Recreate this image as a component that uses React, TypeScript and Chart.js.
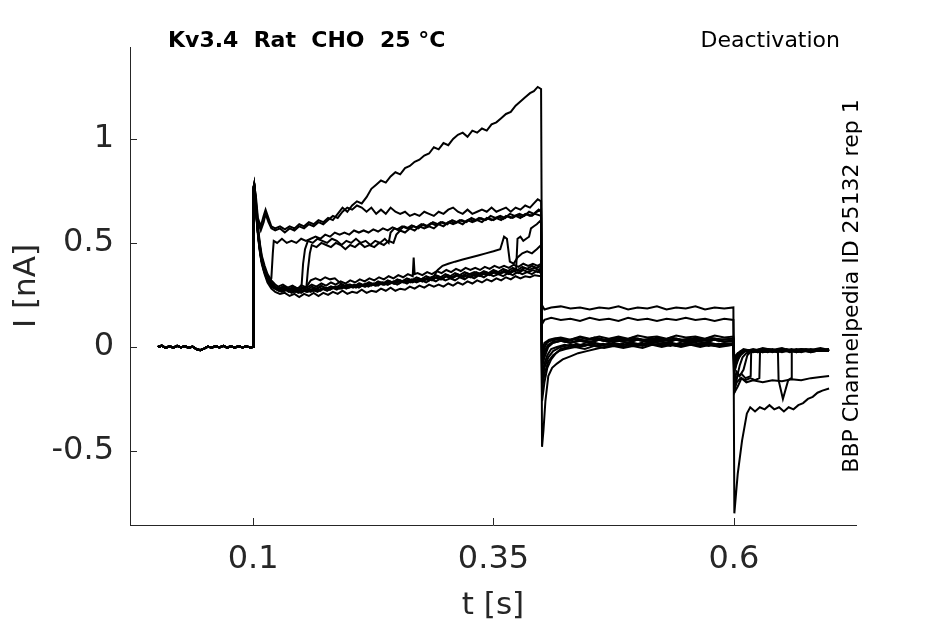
import { useEffect, useRef } from 'react';
import { Chart, registerables } from 'chart.js';

Chart.register(...registerables);

type Pt = [number, number];

// axis ticks and labels
const xTicks = [0.1, 0.35, 0.6];
const yTicks = [-0.5, 0, 0.5, 1];
const xTitle = 't [s]';
const yTitle = 'I [nA]';
const plotTitle = 'Kv3.4  Rat  CHO  25 °C';
const protocolName = 'Deactivation';
const sourceNote = 'BBP Channelpedia ID 25132 rep 1';

// holding current before the step, shared by every sweep
const baseline: Pt[] = [
  [0.001, 0.0], [0.005, 0.006], [0.009, -0.004], [0.013, 0.003], [0.017, -0.003], [0.021, 0.005],
  [0.025, -0.002], [0.029, 0.004], [0.033, -0.005], [0.037, 0.002], [0.041, -0.01], [0.045, -0.016],
  [0.049, -0.008], [0.053, 0.002], [0.057, -0.004], [0.061, 0.004], [0.065, -0.002], [0.069, 0.005],
  [0.073, -0.003], [0.077, 0.003], [0.081, -0.004], [0.085, 0.004], [0.089, -0.002], [0.093, 0.003],
  [0.097, -0.002], [0.1, 0.0],
];

// sweep with the large slowly growing current
const sweepA: Pt[] = [
  [0.1003, 0.45], [0.1007, 0.76], [0.1012, 0.78], [0.103, 0.72], [0.105, 0.62], [0.108, 0.58], [0.111, 0.63],
  [0.113, 0.66], [0.116, 0.62], [0.119, 0.58], [0.123, 0.57], [0.128, 0.58], [0.133, 0.565], [0.138, 0.58],
  [0.143, 0.57], [0.148, 0.59], [0.153, 0.58], [0.158, 0.60], [0.163, 0.59], [0.168, 0.61], [0.173, 0.60],
  [0.178, 0.62], [0.183, 0.61], [0.188, 0.64], [0.193, 0.67], [0.198, 0.65], [0.203, 0.68], [0.208, 0.70],
  [0.213, 0.69], [0.218, 0.72], [0.223, 0.76], [0.228, 0.78], [0.233, 0.80], [0.238, 0.79], [0.243, 0.82],
  [0.248, 0.84], [0.253, 0.83], [0.258, 0.86], [0.263, 0.87], [0.268, 0.89], [0.273, 0.90], [0.278, 0.92],
  [0.283, 0.93], [0.288, 0.96], [0.293, 0.95], [0.298, 0.98], [0.303, 0.97], [0.308, 1.0], [0.313, 1.02],
  [0.318, 1.03], [0.323, 1.01], [0.328, 1.04], [0.333, 1.03], [0.338, 1.05], [0.343, 1.04], [0.348, 1.07],
  [0.353, 1.08], [0.358, 1.10], [0.363, 1.12], [0.368, 1.13], [0.373, 1.16], [0.378, 1.18], [0.383, 1.20],
  [0.388, 1.22], [0.392, 1.23], [0.396, 1.25], [0.3995, 1.24],
  [0.4005, 0.20], [0.403, 0.18], [0.41, 0.19], [0.42, 0.195], [0.43, 0.185], [0.44, 0.19], [0.45, 0.18],
  [0.46, 0.19], [0.47, 0.185], [0.48, 0.195], [0.49, 0.18], [0.5, 0.19], [0.51, 0.185], [0.52, 0.195],
  [0.53, 0.18], [0.54, 0.19], [0.55, 0.185], [0.56, 0.195], [0.57, 0.18], [0.58, 0.19], [0.59, 0.185], [0.5995, 0.19],
  [0.6005, -0.80], [0.604, -0.61], [0.6085, -0.45], [0.6135, -0.32], [0.617, -0.29], [0.622, -0.31],
  [0.627, -0.29], [0.632, -0.30], [0.637, -0.28], [0.642, -0.30], [0.647, -0.29], [0.652, -0.31],
  [0.657, -0.29], [0.662, -0.30], [0.667, -0.28], [0.672, -0.27], [0.677, -0.25], [0.682, -0.24],
  [0.687, -0.22], [0.692, -0.21], [0.699, -0.20],
];

// sweep with the flat 0.65 nA plateau
const sweepB: Pt[] = [
  [0.1003, 0.44], [0.1007, 0.75], [0.1012, 0.77], [0.103, 0.70], [0.105, 0.60], [0.108, 0.56], [0.111, 0.60],
  [0.113, 0.64], [0.116, 0.60], [0.119, 0.57], [0.123, 0.56], [0.128, 0.57], [0.133, 0.55], [0.138, 0.57],
  [0.143, 0.56], [0.148, 0.58], [0.153, 0.57], [0.158, 0.59], [0.163, 0.58], [0.168, 0.60], [0.173, 0.59],
  [0.178, 0.61], [0.183, 0.63], [0.188, 0.62], [0.193, 0.65], [0.198, 0.67], [0.203, 0.66], [0.208, 0.68],
  [0.213, 0.67], [0.218, 0.65], [0.223, 0.67], [0.228, 0.64], [0.233, 0.66], [0.238, 0.64], [0.243, 0.67],
  [0.248, 0.65], [0.253, 0.64], [0.258, 0.65], [0.263, 0.63], [0.268, 0.64], [0.273, 0.63], [0.278, 0.65],
  [0.283, 0.64], [0.288, 0.63], [0.293, 0.65], [0.298, 0.64], [0.303, 0.66], [0.308, 0.67], [0.313, 0.65],
  [0.318, 0.64], [0.323, 0.66], [0.328, 0.64], [0.333, 0.65], [0.338, 0.66], [0.343, 0.65], [0.348, 0.67],
  [0.353, 0.65], [0.358, 0.66], [0.363, 0.67], [0.368, 0.65], [0.373, 0.67], [0.378, 0.66], [0.383, 0.68],
  [0.388, 0.67], [0.392, 0.69], [0.396, 0.71], [0.3995, 0.70],
  [0.4005, 0.11], [0.403, 0.13], [0.41, 0.14], [0.42, 0.13], [0.43, 0.135], [0.44, 0.125], [0.45, 0.14],
  [0.46, 0.13], [0.47, 0.135], [0.48, 0.125], [0.49, 0.14], [0.5, 0.13], [0.51, 0.135], [0.52, 0.125],
  [0.53, 0.135], [0.54, 0.13], [0.55, 0.14], [0.56, 0.13], [0.57, 0.135], [0.58, 0.125], [0.59, 0.135], [0.5995, 0.13],
  [0.6005, -0.22], [0.604, -0.19], [0.608, -0.15], [0.613, -0.17], [0.62, -0.16], [0.63, -0.17], [0.64, -0.16],
  [0.65, -0.165], [0.66, -0.155], [0.67, -0.16], [0.68, -0.15], [0.69, -0.145], [0.699, -0.14],
];

// sweep that jumps up early (~0.12 s)
const sweepC: Pt[] = [
  [0.1003, 0.40], [0.1007, 0.75], [0.1012, 0.77], [0.102, 0.72], [0.104, 0.60], [0.106, 0.50], [0.108, 0.43],
  [0.111, 0.37], [0.114, 0.33], [0.117, 0.31], [0.119, 0.33], [0.1205, 0.45], [0.1215, 0.51], [0.125, 0.50],
  [0.13, 0.52], [0.135, 0.50], [0.14, 0.51], [0.145, 0.50], [0.15, 0.52], [0.155, 0.51], [0.16, 0.52],
  [0.165, 0.53], [0.17, 0.52], [0.175, 0.54], [0.18, 0.53], [0.185, 0.55], [0.19, 0.54], [0.195, 0.55],
  [0.2, 0.54], [0.205, 0.56], [0.21, 0.55], [0.215, 0.56], [0.22, 0.55], [0.225, 0.565], [0.23, 0.555],
  [0.235, 0.57], [0.24, 0.56], [0.245, 0.575], [0.25, 0.565], [0.255, 0.58], [0.26, 0.57], [0.265, 0.585],
  [0.27, 0.575], [0.275, 0.59], [0.28, 0.58], [0.285, 0.595], [0.29, 0.585], [0.295, 0.60], [0.3, 0.59],
  [0.305, 0.605], [0.31, 0.595], [0.315, 0.61], [0.32, 0.60], [0.325, 0.615], [0.33, 0.605], [0.335, 0.62],
  [0.34, 0.61], [0.345, 0.62], [0.35, 0.61], [0.355, 0.625], [0.36, 0.615], [0.365, 0.63], [0.37, 0.62],
  [0.375, 0.635], [0.38, 0.625], [0.385, 0.64], [0.39, 0.63], [0.395, 0.65], [0.3995, 0.66],
  [0.4005, -0.06], [0.402, -0.02], [0.405, 0.02], [0.41, 0.03], [0.42, 0.04], [0.43, 0.03], [0.44, 0.045],
  [0.45, 0.035], [0.46, 0.04], [0.47, 0.03], [0.48, 0.045], [0.49, 0.035], [0.5, 0.04], [0.51, 0.03],
  [0.52, 0.045], [0.53, 0.035], [0.54, 0.04], [0.55, 0.03], [0.56, 0.045], [0.57, 0.035], [0.58, 0.04],
  [0.59, 0.035], [0.5995, 0.04],
  [0.6005, -0.12], [0.603, -0.08], [0.606, -0.04], [0.61, -0.02], [0.62, -0.015], [0.63, -0.025],
  [0.64, -0.015], [0.65, -0.02], [0.66, -0.01], [0.67, -0.025], [0.68, -0.015], [0.69, -0.02], [0.699, -0.015],
];

// sweep that jumps up at ~0.152 s, again at ~0.243 s
const sweepD: Pt[] = [
  [0.1003, 0.40], [0.1007, 0.76], [0.1012, 0.78], [0.102, 0.73], [0.104, 0.61], [0.106, 0.51], [0.108, 0.44],
  [0.111, 0.38], [0.114, 0.34], [0.118, 0.31], [0.122, 0.29], [0.127, 0.28], [0.132, 0.29], [0.137, 0.275],
  [0.142, 0.29], [0.147, 0.28], [0.1505, 0.30], [0.152, 0.40], [0.154, 0.47], [0.157, 0.51], [0.162, 0.50],
  [0.167, 0.52], [0.172, 0.51], [0.177, 0.50], [0.182, 0.52], [0.187, 0.51], [0.192, 0.49], [0.197, 0.51],
  [0.202, 0.50], [0.207, 0.52], [0.212, 0.50], [0.217, 0.51], [0.222, 0.49], [0.227, 0.51], [0.232, 0.50],
  [0.237, 0.52], [0.241, 0.50], [0.243, 0.55], [0.247, 0.57], [0.252, 0.56], [0.257, 0.58], [0.262, 0.57],
  [0.267, 0.58], [0.272, 0.57], [0.277, 0.59], [0.282, 0.58], [0.287, 0.60], [0.292, 0.59], [0.297, 0.60],
  [0.302, 0.59], [0.307, 0.61], [0.312, 0.60], [0.317, 0.61], [0.322, 0.60], [0.327, 0.62], [0.332, 0.61],
  [0.337, 0.62], [0.342, 0.61], [0.347, 0.63], [0.352, 0.62], [0.357, 0.63], [0.362, 0.62], [0.367, 0.64],
  [0.372, 0.63], [0.377, 0.64], [0.382, 0.63], [0.387, 0.65], [0.392, 0.64], [0.397, 0.66], [0.3995, 0.65],
  [0.4005, -0.08], [0.403, -0.03], [0.407, 0.01], [0.412, 0.025], [0.42, 0.03], [0.43, 0.02], [0.44, 0.03],
  [0.45, 0.02], [0.46, 0.035], [0.47, 0.025], [0.48, 0.03], [0.49, 0.02], [0.5, 0.035], [0.51, 0.025],
  [0.52, 0.03], [0.53, 0.02], [0.54, 0.035], [0.55, 0.025], [0.56, 0.03], [0.57, 0.02], [0.58, 0.035],
  [0.59, 0.025], [0.5995, 0.03],
  [0.6005, -0.18], [0.604, -0.14], [0.608, -0.13], [0.612, -0.15], [0.6175, -0.14], [0.618, -0.02],
  [0.625, -0.015], [0.635, -0.025], [0.645, -0.015], [0.655, -0.02], [0.665, -0.01], [0.675, -0.02],
  [0.685, -0.015], [0.699, -0.02],
];

// sweep that jumps up at ~0.157 s and has the big tail transient
const sweepE: Pt[] = [
  [0.1003, 0.41], [0.1007, 0.76], [0.1012, 0.77], [0.102, 0.73], [0.104, 0.62], [0.106, 0.52], [0.108, 0.45],
  [0.111, 0.39], [0.114, 0.34], [0.118, 0.31], [0.122, 0.29], [0.127, 0.275], [0.132, 0.285], [0.137, 0.27],
  [0.142, 0.28], [0.147, 0.27], [0.152, 0.285], [0.1555, 0.29], [0.157, 0.37], [0.159, 0.45], [0.161, 0.49],
  [0.166, 0.48], [0.171, 0.50], [0.176, 0.49], [0.181, 0.48], [0.186, 0.50], [0.191, 0.49], [0.196, 0.47],
  [0.201, 0.49], [0.206, 0.48], [0.211, 0.50], [0.216, 0.48], [0.221, 0.49], [0.226, 0.48], [0.231, 0.50],
  [0.236, 0.49], [0.241, 0.51], [0.246, 0.50], [0.249, 0.54], [0.253, 0.56], [0.258, 0.55], [0.263, 0.57],
  [0.268, 0.56], [0.273, 0.58], [0.278, 0.57], [0.283, 0.58], [0.288, 0.57], [0.293, 0.59], [0.298, 0.58],
  [0.303, 0.60], [0.308, 0.59], [0.313, 0.60], [0.318, 0.59], [0.323, 0.61], [0.328, 0.60], [0.333, 0.61],
  [0.338, 0.60], [0.343, 0.62], [0.348, 0.61], [0.353, 0.62], [0.358, 0.61], [0.363, 0.63], [0.368, 0.62],
  [0.373, 0.63], [0.378, 0.62], [0.383, 0.64], [0.388, 0.63], [0.393, 0.64], [0.3995, 0.63],
  [0.4005, -0.48], [0.402, -0.40], [0.404, -0.26], [0.407, -0.14], [0.411, -0.10], [0.416, -0.08],
  [0.422, -0.06], [0.43, -0.045], [0.438, -0.03], [0.447, -0.02], [0.456, -0.01], [0.465, 0.0],
  [0.475, 0.01], [0.485, 0.0], [0.495, 0.015], [0.505, 0.005], [0.515, 0.015], [0.525, 0.005],
  [0.535, 0.015], [0.545, 0.005], [0.555, 0.015], [0.565, 0.005], [0.575, 0.015], [0.585, 0.005], [0.5995, 0.01],
  [0.6005, -0.10], [0.604, -0.05], [0.608, -0.025], [0.615, -0.015], [0.625, -0.025], [0.635, -0.01],
  [0.645, -0.02], [0.655, -0.01], [0.665, -0.025], [0.675, -0.015], [0.685, -0.02], [0.699, -0.01],
];

// sweep with the late spike near 0.36 s
const sweepF: Pt[] = [
  [0.1003, 0.42], [0.1007, 0.77], [0.1012, 0.78], [0.102, 0.74], [0.1035, 0.64], [0.105, 0.56], [0.107, 0.48],
  [0.109, 0.42], [0.112, 0.37], [0.115, 0.33], [0.119, 0.30], [0.123, 0.285], [0.126, 0.28], [0.132, 0.27],
  [0.138, 0.28], [0.144, 0.265], [0.15, 0.275], [0.156, 0.265], [0.162, 0.28], [0.168, 0.27], [0.174, 0.285],
  [0.18, 0.275], [0.186, 0.29], [0.192, 0.28], [0.198, 0.295], [0.204, 0.285], [0.21, 0.30], [0.216, 0.29],
  [0.222, 0.305], [0.228, 0.295], [0.234, 0.31], [0.24, 0.30], [0.246, 0.315], [0.252, 0.305], [0.258, 0.32],
  [0.264, 0.31], [0.27, 0.325], [0.276, 0.315], [0.282, 0.33], [0.288, 0.34], [0.292, 0.37], [0.297, 0.39],
  [0.303, 0.40], [0.31, 0.41], [0.318, 0.42], [0.326, 0.43], [0.334, 0.44], [0.342, 0.45], [0.35, 0.46],
  [0.357, 0.47], [0.359, 0.50], [0.361, 0.53], [0.364, 0.52], [0.367, 0.41], [0.371, 0.40], [0.375, 0.43],
  [0.38, 0.45], [0.385, 0.46], [0.39, 0.45], [0.395, 0.47], [0.3995, 0.49],
  [0.4005, -0.16], [0.403, -0.10], [0.407, -0.05], [0.412, -0.02], [0.42, 0.0], [0.43, 0.01], [0.44, 0.0],
  [0.45, 0.015], [0.46, 0.005], [0.47, 0.015], [0.48, 0.005], [0.49, 0.015], [0.5, 0.005], [0.51, 0.02],
  [0.52, 0.01], [0.53, 0.015], [0.54, 0.005], [0.55, 0.02], [0.56, 0.01], [0.57, 0.015], [0.58, 0.005],
  [0.59, 0.015], [0.5995, 0.01],
  [0.6005, -0.20], [0.603, -0.17], [0.607, -0.15], [0.612, -0.16], [0.617, -0.15], [0.622, -0.16],
  [0.6265, -0.15], [0.6272, -0.02], [0.635, -0.015], [0.645, -0.025], [0.655, -0.015], [0.665, -0.02],
  [0.675, -0.01], [0.685, -0.02], [0.699, -0.015],
];

// sweep that steps up at ~0.375 s
const sweepG: Pt[] = [
  [0.1003, 0.41], [0.1007, 0.76], [0.1012, 0.78], [0.102, 0.73], [0.1035, 0.63], [0.105, 0.55], [0.107, 0.47],
  [0.109, 0.41], [0.112, 0.36], [0.115, 0.32], [0.119, 0.295], [0.123, 0.28], [0.127, 0.275], [0.133, 0.285],
  [0.139, 0.27], [0.145, 0.28], [0.151, 0.265], [0.157, 0.28], [0.163, 0.27], [0.169, 0.285], [0.175, 0.275],
  [0.181, 0.29], [0.187, 0.28], [0.193, 0.295], [0.199, 0.285], [0.205, 0.30], [0.211, 0.29], [0.217, 0.305],
  [0.223, 0.295], [0.229, 0.31], [0.235, 0.30], [0.241, 0.315], [0.247, 0.305], [0.253, 0.32], [0.259, 0.31],
  [0.265, 0.325], [0.271, 0.315], [0.277, 0.33], [0.283, 0.32], [0.289, 0.335], [0.295, 0.325], [0.301, 0.34],
  [0.307, 0.33], [0.313, 0.345], [0.319, 0.335], [0.325, 0.35], [0.331, 0.34], [0.337, 0.355], [0.343, 0.345],
  [0.349, 0.36], [0.355, 0.35], [0.361, 0.365], [0.367, 0.355], [0.3735, 0.37], [0.375, 0.52], [0.378, 0.53],
  [0.381, 0.51], [0.384, 0.52], [0.387, 0.53], [0.389, 0.57], [0.392, 0.58], [0.395, 0.59], [0.3995, 0.61],
  [0.4005, -0.02], [0.403, 0.02], [0.408, 0.035], [0.415, 0.04], [0.425, 0.03], [0.435, 0.04], [0.445, 0.03],
  [0.455, 0.045], [0.465, 0.035], [0.475, 0.04], [0.485, 0.03], [0.495, 0.045], [0.505, 0.035], [0.515, 0.04],
  [0.525, 0.03], [0.535, 0.045], [0.545, 0.035], [0.555, 0.04], [0.565, 0.03], [0.575, 0.045], [0.585, 0.035],
  [0.5995, 0.04],
  [0.6005, -0.16], [0.603, -0.12], [0.606, -0.14], [0.61, -0.11], [0.614, -0.04], [0.618, -0.02],
  [0.628, -0.01], [0.638, -0.02], [0.648, -0.01], [0.658, -0.025], [0.668, -0.015], [0.678, -0.02],
  [0.688, -0.01], [0.699, -0.02],
];

// sweeps that stay in the low band
const sweepH: Pt[] = [
  [0.1003, 0.40], [0.1007, 0.75], [0.1012, 0.77], [0.102, 0.72], [0.1035, 0.62], [0.105, 0.54], [0.107, 0.46],
  [0.109, 0.40], [0.112, 0.35], [0.115, 0.31], [0.119, 0.28], [0.123, 0.265], [0.128, 0.255], [0.133, 0.26],
  [0.138, 0.245], [0.143, 0.255], [0.148, 0.24], [0.153, 0.255], [0.158, 0.245], [0.163, 0.26], [0.168, 0.245],
  [0.173, 0.26], [0.178, 0.25], [0.183, 0.265], [0.188, 0.255], [0.193, 0.27], [0.198, 0.255], [0.203, 0.265],
  [0.208, 0.26], [0.213, 0.275], [0.218, 0.26], [0.223, 0.27], [0.228, 0.265], [0.233, 0.28], [0.238, 0.27],
  [0.243, 0.285], [0.248, 0.27], [0.253, 0.28], [0.258, 0.275], [0.263, 0.29], [0.268, 0.28], [0.273, 0.295],
  [0.278, 0.285], [0.283, 0.30], [0.288, 0.29], [0.293, 0.30], [0.298, 0.29], [0.303, 0.305], [0.308, 0.295],
  [0.313, 0.31], [0.318, 0.30], [0.323, 0.315], [0.328, 0.305], [0.333, 0.32], [0.338, 0.31], [0.343, 0.325],
  [0.348, 0.315], [0.353, 0.33], [0.358, 0.32], [0.363, 0.335], [0.368, 0.325], [0.373, 0.34], [0.378, 0.33],
  [0.383, 0.34], [0.388, 0.335], [0.393, 0.345], [0.3995, 0.34],
  [0.4005, -0.20], [0.403, -0.13], [0.407, -0.07], [0.412, -0.04], [0.418, -0.02], [0.425, -0.01],
  [0.435, 0.0], [0.445, -0.01], [0.455, 0.005], [0.465, -0.005], [0.475, 0.005], [0.485, -0.005],
  [0.495, 0.005], [0.505, -0.005], [0.515, 0.01], [0.525, 0.0], [0.535, 0.01], [0.545, 0.0], [0.555, 0.01],
  [0.565, 0.0], [0.575, 0.01], [0.585, 0.0], [0.5995, 0.01],
  [0.6005, -0.06], [0.604, -0.03], [0.61, -0.02], [0.62, -0.015], [0.63, -0.025], [0.64, -0.015],
  [0.6458, -0.02], [0.6465, -0.16], [0.651, -0.25], [0.6565, -0.16], [0.6595, -0.15], [0.6602, -0.02],
  [0.67, -0.015], [0.68, -0.025], [0.69, -0.015], [0.699, -0.02],
];

const sweepI: Pt[] = [
  [0.1003, 0.43], [0.1007, 0.77], [0.1012, 0.78], [0.102, 0.75], [0.1035, 0.65], [0.105, 0.57], [0.107, 0.49],
  [0.109, 0.43], [0.112, 0.38], [0.115, 0.34], [0.119, 0.31], [0.123, 0.29], [0.126, 0.28], [0.131, 0.29],
  [0.136, 0.275], [0.141, 0.285], [0.146, 0.27], [0.151, 0.285], [0.156, 0.275], [0.161, 0.29], [0.166, 0.28],
  [0.171, 0.295], [0.176, 0.28], [0.181, 0.29], [0.186, 0.285], [0.191, 0.30], [0.196, 0.29], [0.201, 0.30],
  [0.206, 0.29], [0.211, 0.305], [0.216, 0.295], [0.221, 0.31], [0.226, 0.30], [0.231, 0.31], [0.236, 0.30],
  [0.241, 0.315], [0.246, 0.305], [0.251, 0.32], [0.256, 0.31], [0.261, 0.32], [0.266, 0.31], [0.271, 0.325],
  [0.276, 0.315], [0.281, 0.33], [0.286, 0.32], [0.291, 0.335], [0.296, 0.325], [0.301, 0.34], [0.306, 0.33],
  [0.311, 0.345], [0.316, 0.335], [0.321, 0.345], [0.326, 0.335], [0.331, 0.35], [0.336, 0.34], [0.341, 0.355],
  [0.346, 0.345], [0.351, 0.36], [0.356, 0.35], [0.361, 0.36], [0.366, 0.35], [0.371, 0.365], [0.376, 0.355],
  [0.381, 0.37], [0.386, 0.36], [0.391, 0.37], [0.396, 0.36], [0.3995, 0.37],
  [0.4005, -0.26], [0.403, -0.17], [0.406, -0.10], [0.41, -0.06], [0.415, -0.03], [0.42, -0.01],
  [0.428, 0.0], [0.436, 0.015], [0.445, 0.005], [0.455, 0.02], [0.465, 0.01], [0.475, 0.02], [0.485, 0.01],
  [0.495, 0.02], [0.505, 0.01], [0.515, 0.025], [0.525, 0.015], [0.535, 0.02], [0.545, 0.01], [0.555, 0.025],
  [0.565, 0.015], [0.575, 0.02], [0.585, 0.01], [0.5995, 0.02],
  [0.6005, -0.22], [0.603, -0.15], [0.606, -0.09], [0.609, -0.05], [0.613, -0.03], [0.62, -0.02],
  [0.63, -0.01], [0.64, -0.025], [0.65, -0.015], [0.66, -0.02], [0.67, -0.01], [0.68, -0.02],
  [0.69, -0.015], [0.699, -0.02],
];

const sweepJ: Pt[] = [
  [0.1003, 0.42], [0.1007, 0.76], [0.1012, 0.78], [0.102, 0.74], [0.1035, 0.64], [0.105, 0.56], [0.107, 0.48],
  [0.109, 0.42], [0.112, 0.37], [0.115, 0.33], [0.119, 0.30], [0.123, 0.285], [0.127, 0.28], [0.132, 0.27],
  [0.137, 0.28], [0.142, 0.265], [0.147, 0.28], [0.152, 0.27], [0.157, 0.30], [0.16, 0.32], [0.165, 0.33],
  [0.17, 0.32], [0.175, 0.335], [0.18, 0.325], [0.185, 0.33], [0.19, 0.31], [0.195, 0.295], [0.2, 0.30],
  [0.205, 0.29], [0.21, 0.305], [0.215, 0.295], [0.22, 0.31], [0.225, 0.30], [0.23, 0.315], [0.235, 0.305],
  [0.24, 0.32], [0.245, 0.31], [0.25, 0.325], [0.255, 0.315], [0.26, 0.33], [0.265, 0.32], [0.27, 0.335],
  [0.275, 0.325], [0.28, 0.34], [0.285, 0.33], [0.29, 0.345], [0.295, 0.335], [0.3, 0.35], [0.305, 0.34],
  [0.31, 0.355], [0.315, 0.345], [0.32, 0.36], [0.325, 0.35], [0.33, 0.36], [0.335, 0.35], [0.34, 0.365],
  [0.345, 0.355], [0.35, 0.37], [0.355, 0.36], [0.36, 0.375], [0.365, 0.365], [0.37, 0.38], [0.375, 0.37],
  [0.38, 0.385], [0.385, 0.375], [0.39, 0.39], [0.395, 0.38], [0.3995, 0.39],
  [0.4005, -0.10], [0.403, -0.05], [0.407, 0.0], [0.412, 0.02], [0.42, 0.03], [0.43, 0.02], [0.44, 0.035],
  [0.45, 0.025], [0.46, 0.035], [0.47, 0.025], [0.48, 0.04], [0.49, 0.03], [0.5, 0.035], [0.51, 0.025],
  [0.52, 0.04], [0.53, 0.03], [0.54, 0.035], [0.55, 0.025], [0.56, 0.04], [0.57, 0.03], [0.58, 0.035],
  [0.59, 0.025], [0.5995, 0.03],
  [0.6005, -0.08], [0.603, -0.05], [0.607, -0.02], [0.615, -0.015], [0.625, -0.025], [0.635, -0.01],
  [0.645, -0.02], [0.655, -0.015], [0.665, -0.025], [0.675, -0.015], [0.685, -0.02], [0.699, -0.01],
];

const sweepK: Pt[] = [
  [0.1003, 0.43], [0.1007, 0.77], [0.1012, 0.78], [0.102, 0.75], [0.1035, 0.66], [0.105, 0.58], [0.107, 0.50],
  [0.109, 0.44], [0.112, 0.39], [0.115, 0.35], [0.119, 0.32], [0.123, 0.30], [0.126, 0.29], [0.131, 0.30],
  [0.136, 0.285], [0.141, 0.295], [0.146, 0.28], [0.151, 0.295], [0.156, 0.285], [0.161, 0.30], [0.166, 0.29],
  [0.171, 0.305], [0.176, 0.295], [0.181, 0.31], [0.186, 0.30], [0.191, 0.315], [0.196, 0.305], [0.201, 0.32],
  [0.206, 0.31], [0.211, 0.325], [0.216, 0.315], [0.221, 0.33], [0.226, 0.32], [0.231, 0.335], [0.236, 0.325],
  [0.241, 0.34], [0.246, 0.33], [0.251, 0.345], [0.256, 0.335], [0.261, 0.35], [0.266, 0.34], [0.267, 0.43],
  [0.268, 0.35], [0.271, 0.355], [0.276, 0.345], [0.281, 0.36], [0.286, 0.35], [0.291, 0.365], [0.296, 0.355],
  [0.301, 0.37], [0.306, 0.36], [0.311, 0.375], [0.316, 0.365], [0.321, 0.38], [0.326, 0.37], [0.331, 0.38],
  [0.336, 0.37], [0.341, 0.385], [0.346, 0.375], [0.351, 0.39], [0.356, 0.38], [0.361, 0.39], [0.366, 0.38],
  [0.371, 0.395], [0.376, 0.385], [0.381, 0.40], [0.386, 0.39], [0.391, 0.40], [0.396, 0.39], [0.3995, 0.40],
  [0.4005, -0.04], [0.403, 0.0], [0.407, 0.03], [0.412, 0.04], [0.42, 0.045], [0.43, 0.035], [0.44, 0.05],
  [0.45, 0.04], [0.46, 0.05], [0.47, 0.04], [0.48, 0.05], [0.49, 0.04], [0.5, 0.055], [0.51, 0.045],
  [0.52, 0.05], [0.53, 0.04], [0.54, 0.055], [0.55, 0.045], [0.56, 0.05], [0.57, 0.04], [0.58, 0.055],
  [0.59, 0.045], [0.5995, 0.05],
  [0.6005, -0.05], [0.604, -0.03], [0.61, -0.01], [0.62, -0.02], [0.63, -0.005], [0.64, -0.015],
  [0.65, -0.005], [0.66, -0.02], [0.67, -0.01], [0.68, -0.015], [0.69, -0.005], [0.699, -0.015],
];

const sweepL: Pt[] = [
  [0.1003, 0.41], [0.1007, 0.76], [0.1012, 0.77], [0.102, 0.73], [0.1035, 0.63], [0.105, 0.55], [0.107, 0.47],
  [0.109, 0.41], [0.112, 0.36], [0.115, 0.32], [0.119, 0.29], [0.123, 0.28], [0.125, 0.275], [0.13, 0.265],
  [0.135, 0.275], [0.14, 0.26], [0.145, 0.27], [0.15, 0.26], [0.155, 0.275], [0.16, 0.265], [0.165, 0.28],
  [0.17, 0.27], [0.175, 0.285], [0.18, 0.275], [0.185, 0.29], [0.19, 0.28], [0.195, 0.29], [0.2, 0.285],
  [0.205, 0.295], [0.21, 0.285], [0.215, 0.30], [0.22, 0.29], [0.225, 0.305], [0.23, 0.295], [0.235, 0.31],
  [0.24, 0.30], [0.245, 0.31], [0.25, 0.30], [0.255, 0.315], [0.26, 0.305], [0.265, 0.32], [0.27, 0.31],
  [0.275, 0.32], [0.28, 0.31], [0.285, 0.325], [0.29, 0.315], [0.295, 0.33], [0.3, 0.32], [0.305, 0.33],
  [0.31, 0.32], [0.315, 0.335], [0.32, 0.325], [0.325, 0.34], [0.33, 0.33], [0.335, 0.345], [0.34, 0.335],
  [0.345, 0.35], [0.35, 0.34], [0.355, 0.35], [0.36, 0.34], [0.365, 0.355], [0.37, 0.345], [0.375, 0.36],
  [0.38, 0.35], [0.385, 0.36], [0.39, 0.35], [0.395, 0.365], [0.3995, 0.355],
  [0.4005, -0.14], [0.403, -0.08], [0.406, -0.04], [0.41, -0.01], [0.416, 0.0], [0.424, 0.01], [0.434, 0.0],
  [0.444, 0.015], [0.454, 0.005], [0.464, 0.015], [0.474, 0.005], [0.484, 0.015], [0.494, 0.005],
  [0.504, 0.02], [0.514, 0.01], [0.524, 0.015], [0.534, 0.005], [0.544, 0.02], [0.554, 0.01], [0.564, 0.015],
  [0.574, 0.005], [0.584, 0.015], [0.5995, 0.01],
  [0.6005, -0.12], [0.603, -0.07], [0.607, -0.04], [0.612, -0.02], [0.62, -0.025], [0.63, -0.015],
  [0.64, -0.02], [0.65, -0.01], [0.66, -0.02], [0.67, -0.015], [0.68, -0.025], [0.69, -0.015], [0.699, -0.02],
];

const sweepM: Pt[] = [
  [0.1003, 0.42], [0.1007, 0.76], [0.1012, 0.78], [0.102, 0.74], [0.1035, 0.64], [0.105, 0.55], [0.107, 0.47],
  [0.109, 0.41], [0.112, 0.36], [0.115, 0.32], [0.119, 0.29], [0.123, 0.28], [0.127, 0.27], [0.132, 0.28],
  [0.137, 0.265], [0.142, 0.275], [0.147, 0.26], [0.152, 0.27], [0.157, 0.265], [0.162, 0.275], [0.167, 0.265],
  [0.172, 0.28], [0.177, 0.27], [0.182, 0.285], [0.187, 0.275], [0.192, 0.29], [0.197, 0.28], [0.202, 0.295],
  [0.207, 0.285], [0.212, 0.30], [0.217, 0.29], [0.222, 0.305], [0.227, 0.295], [0.232, 0.31], [0.237, 0.30],
  [0.242, 0.315], [0.247, 0.305], [0.252, 0.32], [0.257, 0.31], [0.262, 0.325], [0.267, 0.315], [0.272, 0.33],
  [0.277, 0.32], [0.282, 0.335], [0.287, 0.325], [0.292, 0.34], [0.297, 0.33], [0.302, 0.345], [0.307, 0.335],
  [0.312, 0.35], [0.317, 0.34], [0.322, 0.355], [0.327, 0.345], [0.332, 0.36], [0.337, 0.35], [0.342, 0.36],
  [0.347, 0.35], [0.352, 0.365], [0.357, 0.355], [0.362, 0.37], [0.367, 0.36], [0.372, 0.375], [0.377, 0.365],
  [0.382, 0.38], [0.387, 0.37], [0.392, 0.38], [0.397, 0.37], [0.3995, 0.38],
  [0.4005, -0.06], [0.403, -0.02], [0.407, 0.01], [0.412, 0.02], [0.42, 0.03], [0.43, 0.02], [0.44, 0.03],
  [0.45, 0.02], [0.46, 0.035], [0.47, 0.025], [0.48, 0.03], [0.49, 0.02], [0.5, 0.035], [0.51, 0.025],
  [0.52, 0.03], [0.53, 0.02], [0.54, 0.035], [0.55, 0.025], [0.56, 0.03], [0.57, 0.02], [0.58, 0.035],
  [0.59, 0.025], [0.5995, 0.03],
  [0.6005, -0.10], [0.6035, -0.06], [0.607, -0.03], [0.612, -0.02], [0.62, -0.01], [0.63, -0.02],
  [0.64, -0.01], [0.65, -0.025], [0.66, -0.015], [0.67, -0.02], [0.68, -0.01], [0.69, -0.02], [0.699, -0.015],
];

const sweeps: Pt[][] = [sweepH, sweepI, sweepJ, sweepK, sweepL, sweepM, sweepG, sweepF, sweepE, sweepD, sweepC, sweepB, sweepA];

const FONT = '"DejaVu Sans", sans-serif';
const INK = '#262626';

const decorations = {
  id: 'decorations',
  afterDraw(chart: any) {
    const { ctx, chartArea, scales } = chart;
    const xs = scales.x;
    const ys = scales.y;
    ctx.save();

    // inward tick marks
    ctx.strokeStyle = INK;
    ctx.lineWidth = 1;
    ctx.beginPath();
    xTicks.forEach((v) => {
      const px = Math.round(xs.getPixelForValue(v)) + 0.5;
      ctx.moveTo(px, chartArea.bottom);
      ctx.lineTo(px, chartArea.bottom - 7);
    });
    yTicks.forEach((v) => {
      const py = Math.round(ys.getPixelForValue(v)) + 0.5;
      ctx.moveTo(chartArea.left, py);
      ctx.lineTo(chartArea.left + 7, py);
    });
    ctx.stroke();

    // axis titles
    ctx.fillStyle = INK;
    ctx.font = `31px ${FONT}`;
    ctx.textAlign = 'center';
    ctx.textBaseline = 'alphabetic';
    ctx.fillText(xTitle, (chartArea.left + chartArea.right) / 2, 614);
    ctx.save();
    ctx.translate(35, (chartArea.top + chartArea.bottom) / 2);
    ctx.rotate(-Math.PI / 2);
    ctx.fillText(yTitle, 0, 0);
    ctx.restore();

    // header texts
    ctx.fillStyle = '#000';
    ctx.font = `bold 22px ${FONT}`;
    ctx.textAlign = 'left';
    ctx.fillText(plotTitle, 168, 47);
    ctx.font = `22px ${FONT}`;
    ctx.textAlign = 'right';
    ctx.fillText(protocolName, 840, 47);

    // source note on the right
    ctx.save();
    ctx.translate(858, (chartArea.top + chartArea.bottom) / 2);
    ctx.rotate(-Math.PI / 2);
    ctx.textAlign = 'center';
    ctx.fillText(sourceNote, 0, 0);
    ctx.restore();

    ctx.restore();
  },
};

export default function App() {
  const canvasRef = useRef<HTMLCanvasElement>(null);
  const chartRef = useRef<Chart | null>(null);

  useEffect(() => {
    if (!canvasRef.current) return;
    if (chartRef.current) chartRef.current.destroy();

    const datasets = sweeps.map((sw) => ({
      data: [...baseline, ...sw].map(([x, y]) => ({ x, y })),
      borderColor: '#000',
      borderWidth: 2,
      pointRadius: 0,
      fill: false,
      tension: 0,
    }));

    chartRef.current = new Chart(canvasRef.current, {
      type: 'line',
      data: { datasets },
      options: {
        animation: false,
        responsive: true,
        maintainAspectRatio: false,
        parsing: false,
        layout: { padding: { top: 47, right: 89, left: 0, bottom: 0 } },
        plugins: {
          legend: { display: false },
          tooltip: { enabled: false },
        },
        scales: {
          x: {
            type: 'linear',
            min: -0.028,
            max: 0.727,
            afterFit: (scale: any) => {
              scale.height = 99;
            },
            afterBuildTicks: (scale: any) => {
              scale.ticks = xTicks.map((value) => ({ value }));
            },
            grid: { display: true, drawOnChartArea: false, drawTicks: false },
            border: { display: true, color: INK, width: 1 },
            ticks: {
              color: INK,
              font: { family: FONT, size: 32 },
              padding: 15,
              maxRotation: 0,
              autoSkip: false,
              callback: (v: any) => String(v),
            },
          },
          y: {
            type: 'linear',
            min: -0.856,
            max: 1.442,
            afterFit: (scale: any) => {
              scale.width = 130;
            },
            afterBuildTicks: (scale: any) => {
              scale.ticks = yTicks.map((value) => ({ value }));
            },
            grid: { display: true, drawOnChartArea: false, drawTicks: false },
            border: { display: true, color: INK, width: 1 },
            ticks: {
              color: INK,
              font: { family: FONT, size: 32 },
              padding: 16,
              autoSkip: false,
              callback: (v: any) => String(v),
            },
          },
        },
      },
      plugins: [decorations],
    });

    return () => {
      if (chartRef.current) {
        chartRef.current.destroy();
        chartRef.current = null;
      }
    };
  }, []);

  return (
    <div style={{ position: 'absolute', left: 0, top: 0, width: 945, height: 624, background: '#fff' }}>
      <canvas ref={canvasRef} />
    </div>
  );
}
